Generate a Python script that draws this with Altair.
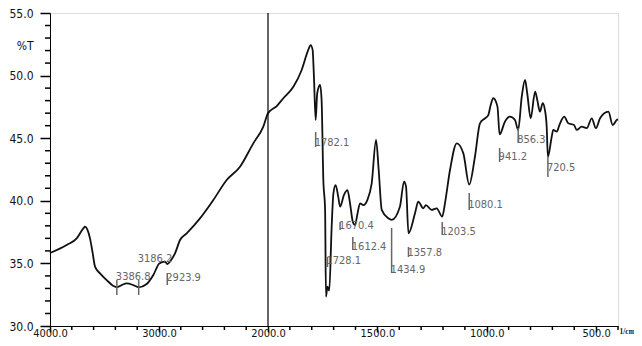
import altair as alt
import pandas as pd

# ---- spectrum (wavenumber 1/cm, %T) ----
wavenumber = [4000, 3847, 3755, 3694, 3679, 3658, 3633, 3608, 3587, 3541, 3480, 3419, 3386.8,
              3342, 3296, 3236, 3186.2, 3113, 3052, 2997, 2945, 2923.9, 2884, 2853, 2807, 2746,
              2624, 2502, 2379, 2257, 2135, 2043, 2000, 1960, 1930, 1884, 1846, 1816, 1805, 1796,
              1790, 1782.1, 1775, 1762, 1755, 1747, 1739, 1735, 1728.1, 1720, 1709, 1701, 1691,
              1679, 1670.4, 1653, 1637, 1625, 1612.4, 1602, 1592, 1579, 1564, 1546, 1526, 1506,
              1494, 1480, 1450, 1434.9, 1397, 1378, 1369, 1357.8, 1328, 1313, 1290, 1278, 1252,
              1229, 1203.5, 1191, 1168, 1137, 1107, 1080.1, 1054, 1031, 1008, 993, 982, 970, 951,
              941.2, 917, 894, 871, 856.3, 840, 825, 815, 799, 779, 769, 757, 744, 734, 726,
              720.5, 703, 696, 680, 668, 646, 627, 601, 589, 566, 543, 520, 501, 482, 444, 424,
              406, 400]
transmittance = [35.83, 36.47, 37.0, 37.8, 37.93, 37.72, 37.0, 35.8, 34.74, 34.2, 33.67, 33.2, 33.09,
                 33.27, 33.4, 33.27, 33.09, 33.35, 34.07, 35.0, 35.14, 34.95, 35.33, 35.8, 36.87, 37.4,
                 38.6, 40.06, 41.66, 42.72, 44.59, 45.92, 46.99, 47.57, 48.19, 49.11, 50.45, 52.05, 52.44, 52.05,
                 49.91, 46.45, 48.59, 49.25, 48.05, 41.66, 39.27, 32.34, 33.14, 32.82, 37.93, 40.6, 41.26,
                 40.33, 39.53, 40.46, 40.86, 39.8, 38.33, 38.07, 38.87, 39.8, 39.66, 40.06, 41.4, 44.86,
                 42.46, 39.27, 38.6, 38.47, 39.53, 41.53, 41.13, 37.4, 39.0, 39.93, 39.4, 39.66, 39.27,
                 39.4, 38.73, 39.8, 42.46, 44.59, 43.79, 41.3, 43.52, 46.19, 46.59, 46.85, 47.65, 48.19, 47.52,
                 45.3, 46.32, 46.72, 46.45, 45.66, 48.32, 49.65, 48.59, 46.59, 48.72, 48.05, 47.12, 47.79, 47.25, 45.92,
                 43.52, 45.12, 45.66, 45.52, 46.05, 46.72, 46.19, 46.05, 45.66, 45.92, 45.8, 46.59, 45.8, 46.59, 47.12, 46.05,
                 46.45, 46.5]

# ---- peak annotations ----
peak_wn = [3386.8, 3186.2, 2923.9, 1782.1, 1728.1, 1670.4, 1612.4, 1434.9, 1357.8, 1203.5,
           1080.1, 941.2, 856.3, 720.5]
peak_text = ["3386.8", "3186.2", "2923.9", "1782.1", "1728.1", "1670.4", "1612.4", "1434.9",
             "1357.8", "1203.5", "1080.1", "941.2", "856.3", "720.5"]
tick_top = [33.67, 33.67, 34.23, 45.5, 35.51, 38.31, 37.11, 37.83, 36.31, 38.31, 40.62, 44.22, 45.81, 43.5]
tick_bottom = [32.48, 32.48, 33.27, 44.3, 34.71, 37.67, 36.07, 34.23, 35.51, 37.27, 39.27, 43.1, 44.62, 41.9]
label_t = [33.91, 35.35, 33.83, 44.62, 35.19, 37.99, 36.31, 34.47, 35.83, 37.51, 39.66, 43.5, 44.86, 42.62]

# ---- axis ticks ----
x_major = [4000, 3000, 2000, 1500, 1000, 500]
x_minor = [v for v in list(range(4000, 2000, -200)) + list(range(2000, 399, -100)) if v not in x_major]
y_major = [30, 35, 40, 45, 50, 55]
y_minor = [v for v in range(30, 56) if v not in y_major]
x_domain = [4000, 2000, 400]
x_break = [2000]

W, H = 568, 313

spec = pd.DataFrame({"wn": wavenumber, "t": transmittance})
peaks = pd.DataFrame({"wn": peak_wn, "txt": peak_text, "t1": tick_top, "t2": tick_bottom, "tl": label_t})
brk = pd.DataFrame({"wn": x_break})
xmin_df = pd.DataFrame({"wn": x_minor})
ymin_df = pd.DataFrame({"t": y_minor})

FONT = "Liberation Sans Narrow, DejaVu Sans Condensed, Liberation Sans, sans-serif"

xs = alt.Scale(domain=x_domain, range=[0, 218, W], nice=False, zero=False)
ys = alt.Scale(domain=[30, 55], nice=False, zero=False)

x_axis = alt.Axis(values=x_major, format=".1f", grid=False, tickSize=6, tickWidth=1.5,
                  labelPadding=-5,
                  labelFlush=False, labelOverlap=False, labelFontSize=11, labelColor="#111",
                  labelFont=FONT, domainColor="black", tickColor="black", orient="bottom",
                  title="1/cm", titleX=569, titleY=5, titleAlign="left", titleBaseline="middle",
                  titleFontSize=7.5, titleFont="Liberation Serif, serif", titleFontWeight="bold",
                  titleColor="#111")
y_axis = alt.Axis(values=y_major, format=".1f", grid=False, tickSize=10, tickWidth=1.5,
                  labelPadding=7,
                  labelFlush=False, labelOverlap=False, labelFontSize=12, labelColor="#111",
                  labelFont=FONT, domainColor="black", tickColor="black", orient="left",
                  title="%T", titleAngle=0, titleX=-17, titleY=32, titleAlign="right",
                  titleBaseline="middle", titleFontSize=12, titleFont=FONT, titleFontWeight="normal",
                  titleColor="#111")

line = alt.Chart(spec).mark_line(color="#111", strokeWidth=1.8, interpolate="monotone").encode(
    x=alt.X("wn:Q", scale=xs, axis=x_axis, sort=None),
    y=alt.Y("t:Q", scale=ys, axis=y_axis),
    order=alt.Order("wn:Q", sort="descending"),
)

# minor axis ticks, placed through the scales
xminor = alt.Chart(xmin_df).mark_rule(color="black", strokeWidth=1.5).encode(
    x=alt.X("wn:Q", scale=xs),
    y=alt.value(H),
    y2=alt.value(H + 4),
)
yminor = alt.Chart(ymin_df).mark_rule(color="black", strokeWidth=1.5).encode(
    y=alt.Y("t:Q", scale=ys),
    x=alt.value(-5),
    x2=alt.value(0),
)

ticks = alt.Chart(peaks).mark_rule(color="#666", strokeWidth=1.5).encode(
    x=alt.X("wn:Q", scale=xs),
    y=alt.Y("t1:Q", scale=ys),
    y2="t2:Q",
)

labels = alt.Chart(peaks).mark_text(align="left", baseline="middle", dx=-1, fontSize=11,
                                    font=FONT, color="#666").encode(
    x=alt.X("wn:Q", scale=xs),
    y=alt.Y("tl:Q", scale=ys),
    text="txt:N",
)

vline = alt.Chart(brk).mark_rule(color="black", strokeWidth=1.2).encode(
    x=alt.X("wn:Q", scale=xs),
)

chart = alt.layer(line, xminor, yminor, ticks, vline, labels).properties(
    width=W, height=H,
    autosize=alt.AutoSizeParams(type="none"),
    padding={"left": 42, "top": 5, "right": 16, "bottom": 12},
).configure_view(stroke="black", strokeWidth=1.2).configure(background="white")

chart.save("out.html", embed_options={"renderer": "svg", "actions": False})
